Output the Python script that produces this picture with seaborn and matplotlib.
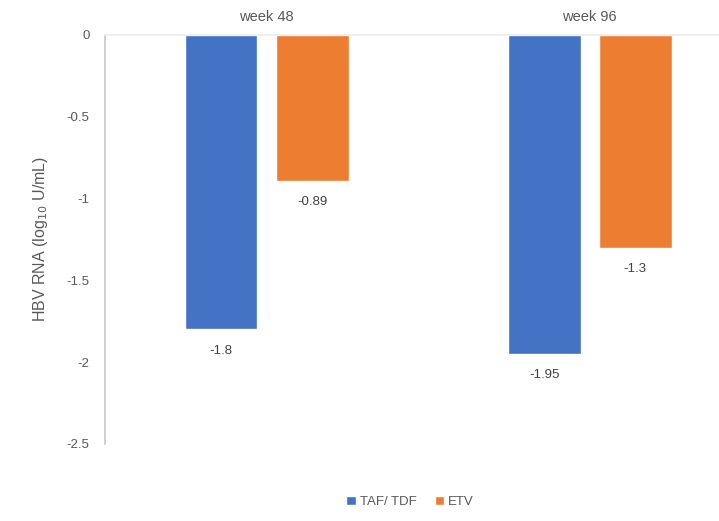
import pandas as pd
import matplotlib.pyplot as plt
import seaborn as sns

weeks = ["week 48", "week 96"]
taf_tdf = [-1.8, -1.95]
etv = [-0.89, -1.3]
groups = ["TAF/ TDF", "ETV"]
colors = {"TAF/ TDF": "#4472C4", "ETV": "#ED7D31"}

df = pd.DataFrame({
    "week": weeks * 2,
    "group": [groups[0]] * len(weeks) + [groups[1]] * len(weeks),
    "value": taf_tdf + etv,
})

sns.set_theme(style="white")
plt.rcParams["font.family"] = ["Liberation Sans", "DejaVu Sans"]
text_col = "#595959"

fig = plt.figure(figsize=(7.19, 5.21), dpi=100)
ax = fig.add_axes([0.146, 0.148, 0.854, 0.785])

sns.barplot(data=df, x="week", y="value", hue="group", order=weeks,
            hue_order=groups, palette=colors, width=0.564, gap=0.2,
            saturation=1, ax=ax, legend=True)

# value labels under each bar
for cont in ax.containers:
    for bar in cont:
        h = bar.get_height()
        ax.annotate(f"{h:g}", xy=(bar.get_x() + bar.get_width() / 2, h),
                    xytext=(0, -11), textcoords="offset points",
                    ha="center", va="top", fontsize=9.5, color="#404040")

ax.set_ylim(-2.5, 0)
ax.set_xlim(-0.5, 1.4)
ax.set_yticks([0, -0.5, -1, -1.5, -2, -2.5])
ax.set_yticklabels(["0", "-0.5", "-1", "-1.5", "-2", "-2.5"])
ax.xaxis.tick_top()
ax.tick_params(axis="x", length=0, pad=8, labelsize=10.5, colors=text_col)
ax.tick_params(axis="y", length=0, pad=11, labelsize=9.5, colors=text_col)
ax.set_xlabel("")
ax.set_ylabel("HBV RNA (log$_{10}$ U/mL)", fontsize=11.5, color=text_col)
ax.yaxis.set_label_coords(-0.09, 0.5)

for s in ["right", "bottom"]:
    ax.spines[s].set_visible(False)
ax.spines["top"].set_color("#eeeeee")
ax.spines["left"].set_color("#c8c8c8")
ax.spines["left"].set_linewidth(1.2)

leg = ax.legend(loc="center", bbox_to_anchor=(0.497, -0.142), ncol=2,
                frameon=False, fontsize=9.5, handlelength=0.7, handleheight=0.7,
                handletextpad=0.3, columnspacing=1.4)
for t in leg.get_texts():
    t.set_color(text_col)

fig.savefig("out.png", dpi=100)
